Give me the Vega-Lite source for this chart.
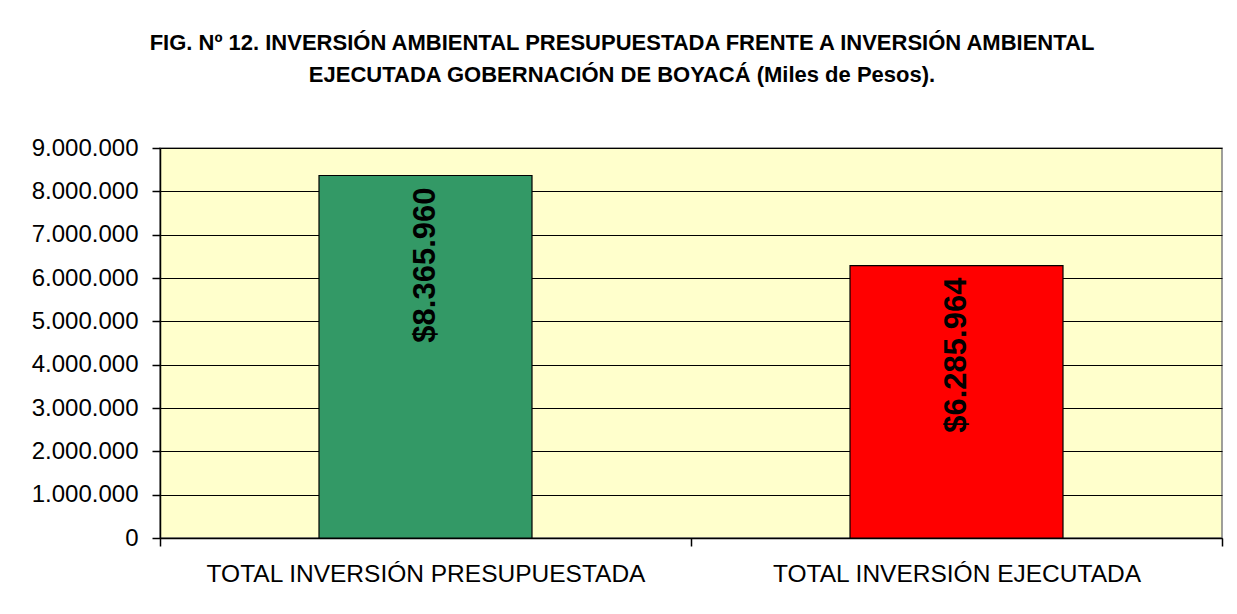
{
  "$schema": "https://vega.github.io/schema/vega-lite/v6.json",
  "width": 1062,
  "height": 390,
  "autosize": {"type": "none"},
  "padding": {"left": 160, "top": 148, "right": 15, "bottom": 76},
  "background": "white",
  "config": {
    "locale": {"number": {"decimal": ",", "thousands": ".", "grouping": [3], "currency": ["$", ""]}},
    "view": {"fill": "#FFFFCC", "stroke": "#808080", "strokeWidth": 1.5}
  },
  "title": {
    "text": ["FIG. Nº 12. INVERSIÓN AMBIENTAL PRESUPUESTADA FRENTE A INVERSIÓN AMBIENTAL", "EJECUTADA GOBERNACIÓN DE BOYACÁ (Miles de Pesos)."],
    "font": "Liberation Sans",
    "fontSize": 22,
    "fontWeight": "bold",
    "color": "black",
    "anchor": "middle",
    "frame": "group",
    "dx": -69,
    "baseline": "bottom",
    "lineHeight": 32,
    "offset": 27
  },
  "data": {
    "values": [
      {"categoria": "TOTAL INVERSIÓN PRESUPUESTADA", "valor": 8365960},
      {"categoria": "TOTAL INVERSIÓN EJECUTADA", "valor": 6285964}
    ]
  },
  "encoding": {
    "x": {
      "field": "categoria",
      "type": "nominal",
      "sort": null,
      "scale": {"padding": 0},
      "axis": {
        "title": null,
        "labelAngle": 0,
        "labelFont": "Liberation Sans",
        "labelFontSize": 24.5,
        "labelLimit": 600,
        "labelColor": "black",
        "labelPadding": 16,
        "tickBand": "extent",
        "tickColor": "black",
        "tickSize": 8,
        "tickWidth": 1.5,
        "domainColor": "black",
        "domainWidth": 1.5,
        "grid": false
      }
    },
    "y": {
      "field": "valor",
      "type": "quantitative",
      "scale": {"domain": [0, 9000000], "nice": false},
      "axis": {
        "title": null,
        "values": [0, 1000000, 2000000, 3000000, 4000000, 5000000, 6000000, 7000000, 8000000, 9000000],
        "format": ",.0f",
        "labelFont": "Liberation Sans",
        "labelFontSize": 24,
        "labelColor": "black",
        "labelPadding": 14,
        "tickColor": "black",
        "tickSize": 8,
        "tickWidth": 1.5,
        "domainColor": "black",
        "domainWidth": 1.5,
        "grid": true,
        "gridColor": "black",
        "gridWidth": 1.2,
        "gridOpacity": 1
      }
    }
  },
  "layer": [
    {
      "mark": {"type": "bar", "size": 213, "stroke": "black", "strokeWidth": 1.2},
      "encoding": {
        "color": {
          "field": "categoria",
          "type": "nominal",
          "scale": {"domain": ["TOTAL INVERSIÓN PRESUPUESTADA", "TOTAL INVERSIÓN EJECUTADA"], "range": ["#339966", "#FF0000"]},
          "legend": null
        }
      }
    },
    {
      "mark": {"type": "text", "angle": 270, "align": "right", "baseline": "middle", "dx": -12, "font": "Liberation Sans", "fontSize": 31, "fontWeight": "bold", "color": "black"},
      "encoding": {
        "text": {"field": "valor", "type": "quantitative", "format": "$,.0f"}
      }
    }
  ]
}
